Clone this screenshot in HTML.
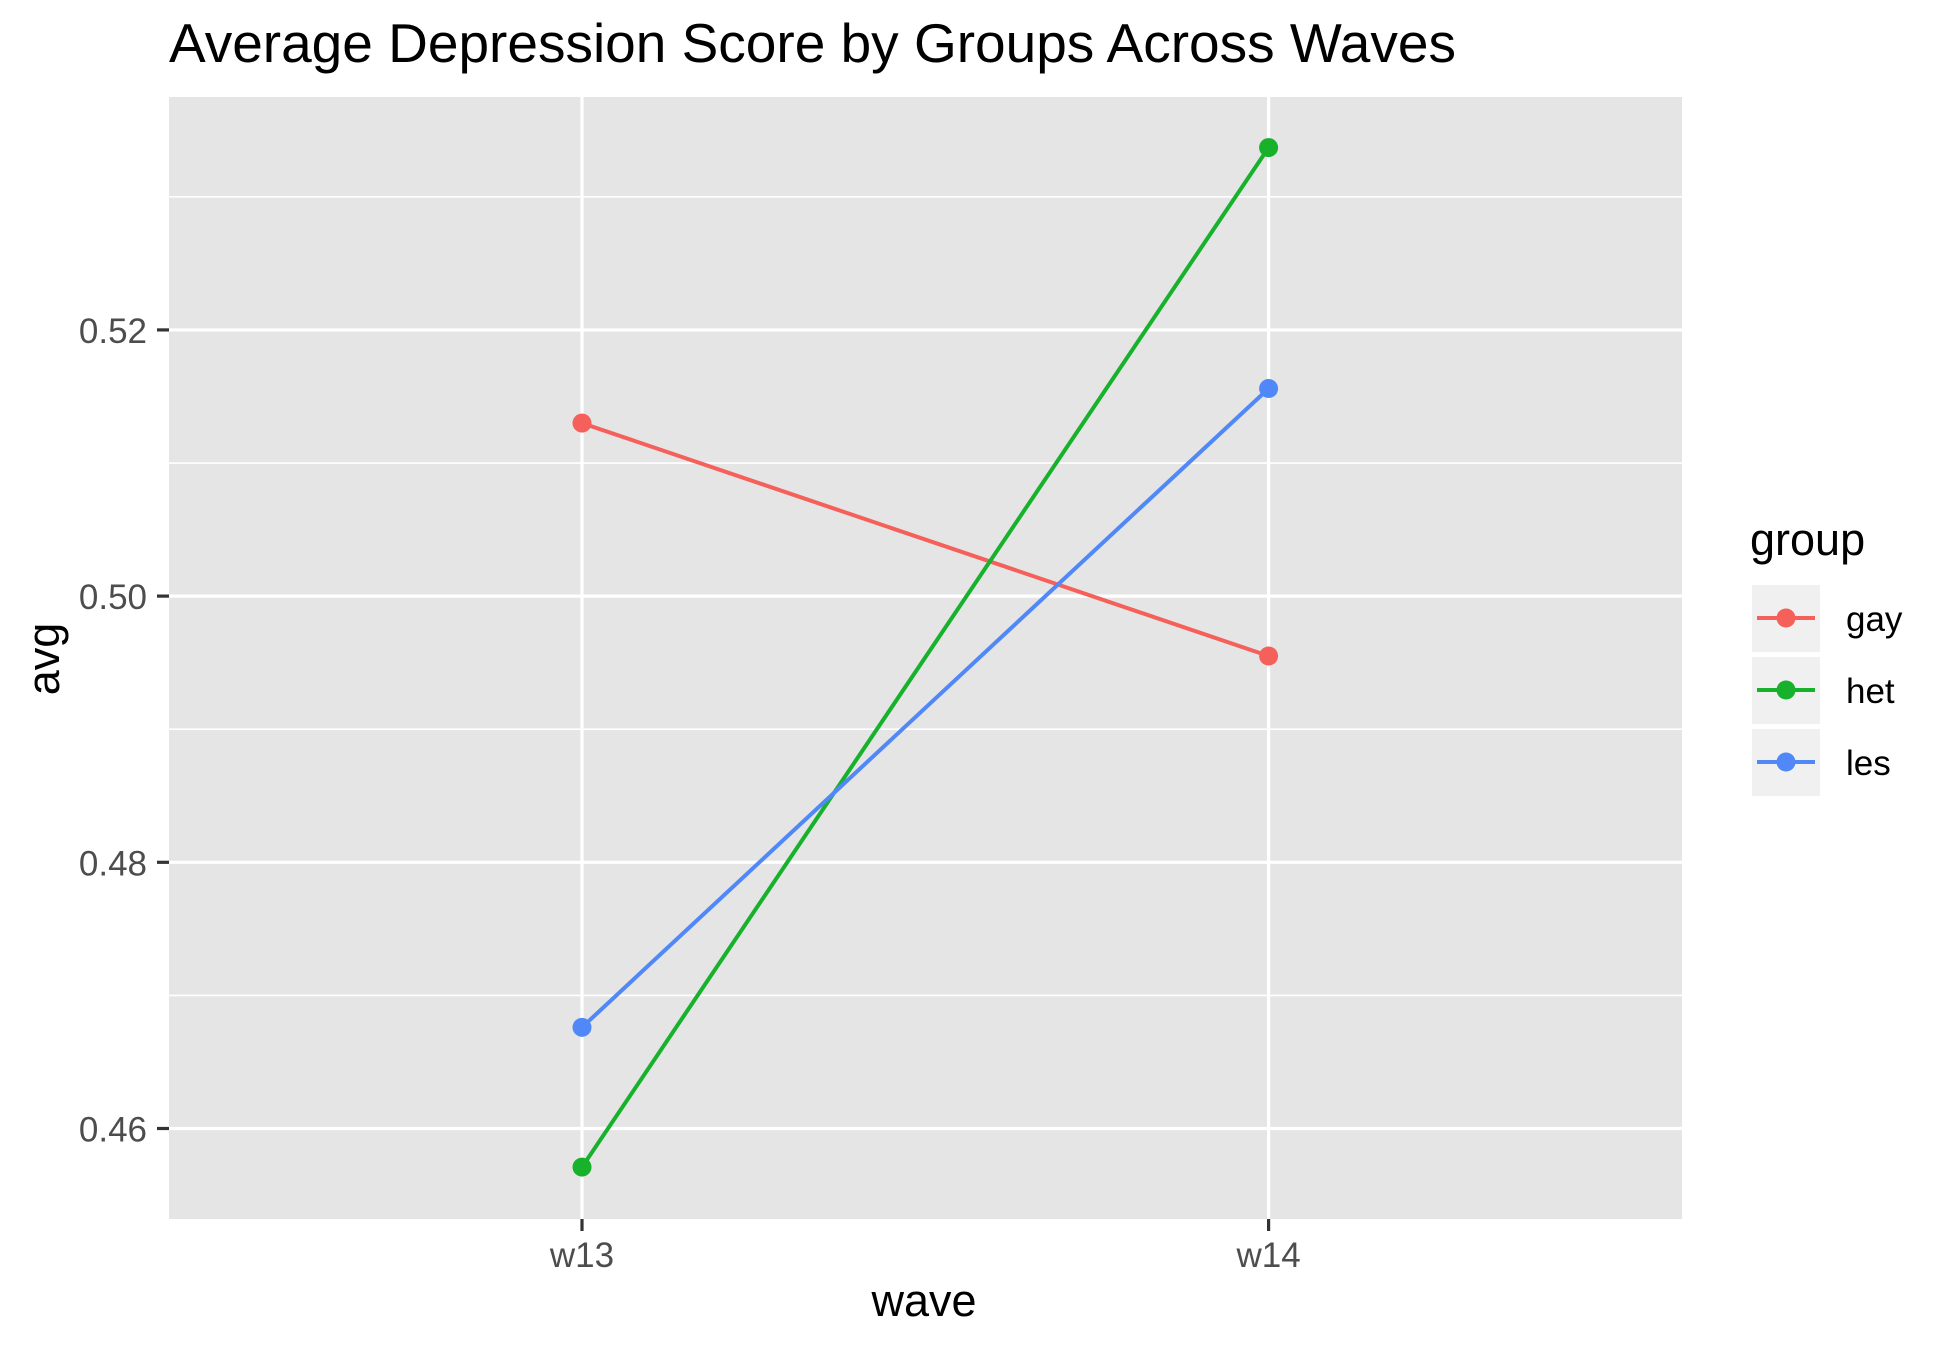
<!DOCTYPE html>
<html><head><meta charset="utf-8"><style>
body{margin:0;background:#fff;}
svg{display:block;font-family:"Liberation Sans",Arial,sans-serif;}
</style></head><body>
<svg id="chart" width="1950" height="1350" viewBox="0 0 1950 1350">
<rect x="0" y="0" width="1950" height="1350" fill="#fff"/>
<text x="169" y="62" font-size="55" fill="#000">Average Depression Score by Groups Across Waves</text>
<rect x="169" y="97" width="1513" height="1122" fill="#e5e5e5"/>
<g id="grid"></g>
<g id="series"></g>
<g id="axes"></g>
<text x="924" y="1316" font-size="45" text-anchor="middle" fill="#000">wave</text>
<text transform="translate(59,659) rotate(-90)" font-size="45" text-anchor="middle" fill="#000">avg</text>
<g id="legend">
<text x="1750" y="555" font-size="45" fill="#000">group</text>
</g>
</svg>
<script>
const categories = ["w13","w14"];
const groups = ["gay","het","les"];
const colors = ["#F5605A","#17B12B","#5088F8"];
const gayValues = [0.5130, 0.4955];
const hetValues = [0.4571, 0.5337];
const lesValues = [0.4676, 0.5156];
const yTicks = [0.46, 0.48, 0.50, 0.52];
const yTickLabels = ["0.46","0.48","0.50","0.52"];
const seriesValues = [gayValues, hetValues, lesValues];

const NS="http://www.w3.org/2000/svg";
const panel={x:169,y:97,w:1513,h:1122};
const yMin=0.4532, yMax=0.5375;
function yScale(v){return panel.y+panel.h-(v-yMin)/(yMax-yMin)*panel.h;}
function xScale(i){return 582+i*(1268.6-582);}
function mk(tag,attrs,parent){const e=document.createElementNS(NS,tag);for(const k in attrs)e.setAttribute(k,attrs[k]);parent.appendChild(e);return e;}
const grid=document.getElementById('grid'), axes=document.getElementById('axes'), series=document.getElementById('series'), legend=document.getElementById('legend');
const minorVals=[];
for(let i=0;i<yTicks.length-1;i++) minorVals.push((yTicks[i]+yTicks[i+1])/2);
minorVals.push(yTicks[yTicks.length-1]+0.01);
minorVals.forEach(v=>{
  if(v>yMin&&v<yMax){
  const l=mk('line',{x1:panel.x,x2:panel.x+panel.w,y1:yScale(v),y2:yScale(v),stroke:'#fff','stroke-width':1.6},grid);
  
  }
});
yTicks.forEach((v,i)=>{
  const y=yScale(v);
  const l=mk('line',{x1:panel.x,x2:panel.x+panel.w,y1:y,y2:y,stroke:'#fff','stroke-width':3.2},grid);
  
  
  const t=mk('line',{x1:panel.x-12,x2:panel.x,y1:y,y2:y,stroke:'#333','stroke-width':3.2},axes);
  
  
  const tx=mk('text',{x:147,y:y+13,'font-size':35,'text-anchor':'end',fill:'#4d4d4d'},axes);
  tx.textContent=yTickLabels[i];
  
  
});
categories.forEach((c,i)=>{
  const x=xScale(i);
  const l=mk('line',{x1:x,x2:x,y1:panel.y,y2:panel.y+panel.h,stroke:'#fff','stroke-width':3.2},grid);
  
  
  const t=mk('line',{x1:x,x2:x,y1:panel.y+panel.h,y2:panel.y+panel.h+12,stroke:'#333','stroke-width':3.2},axes);
  
  
  const tx=mk('text',{x:x,y:1267,'font-size':35,'text-anchor':'middle',fill:'#4d4d4d'},axes);
  tx.textContent=c;
  
  
});
seriesValues.forEach((vals,s)=>{
  const pts=vals.map((v,i)=>xScale(i)+','+yScale(v)).join(' ');
  const pl=mk('polyline',{points:pts,fill:'none',stroke:colors[s],'stroke-width':4},series);
  
  
});
seriesValues.forEach((vals,s)=>{
  vals.forEach((v,i)=>{
    const c=mk('circle',{cx:xScale(i),cy:yScale(v),r:9.5,fill:colors[s]},series);
    
    
  });
});
groups.forEach((g,s)=>{
  const y0=585+s*72;
  const r=mk('rect',{x:1752,y:y0,width:68,height:67,fill:'#f0f0f0'},legend);
  
  
  const l=mk('line',{x1:1757,x2:1815,y1:y0+33,y2:y0+33,stroke:colors[s],'stroke-width':4},legend);
  
  
  const c=mk('circle',{cx:1786,cy:y0+33,r:9.5,fill:colors[s]},legend);
  
  
  const t=mk('text',{x:1846,y:y0+46,'font-size':35,fill:'#000'},legend);
  t.textContent=g;
  
  
});
</script>
</body></html>
